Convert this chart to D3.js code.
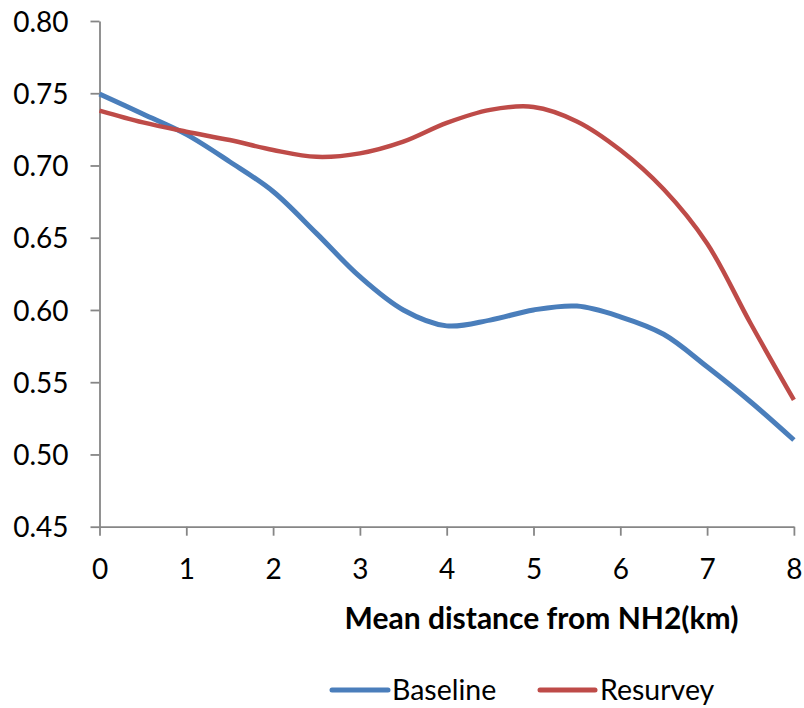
<!DOCTYPE html>
<html>
<head>
<meta charset="utf-8">
<script src="https://cdn.jsdelivr.net/npm/d3@7"></script>
<style>
  body { margin: 0; background: #fff; }
  svg { display: block; }
</style>
</head>
<body>
<svg id="chart" width="804" height="708"></svg>
<script>
// ---- data ----
const xValues      = [0, 0.5, 1, 1.5, 2, 2.5, 3, 3.5, 4, 4.5, 5, 5.5, 6, 6.5, 7, 7.5, 8];
const baseline     = [0.7495, 0.7356, 0.7215, 0.7026, 0.682, 0.653, 0.623, 0.600, 0.589, 0.593, 0.600, 0.6027, 0.5953, 0.5832, 0.5607, 0.5365, 0.510];
const resurvey     = [0.738, 0.7298, 0.7234, 0.7176, 0.7107, 0.706, 0.7084, 0.7165, 0.7295, 0.7385, 0.7405, 0.7305, 0.7107, 0.6835, 0.646, 0.5908, 0.5377];
const seriesNames  = ["Baseline", "Resurvey"];
const xTicks       = [0, 1, 2, 3, 4, 5, 6, 7, 8];
const yTicks       = [0.45, 0.50, 0.55, 0.60, 0.65, 0.70, 0.75, 0.80];
const xTitle       = "Mean distance from NH2(km)";

const colors = { Baseline: "#4a7ebb", Resurvey: "#be4b48" };
const font = "Lato, 'Open Sans', sans-serif";

const svg = d3.select("#chart");
const x = d3.scaleLinear().domain([0, 8]).range([99.5, 793.9]);
const y = d3.scaleLinear().domain([0.45, 0.80]).range([526.7, 21]);

// axes
const axisColor = "#868686";
const yAxis = svg.append("g").attr("transform", `translate(${x(0)},0)`)
  .call(d3.axisLeft(y).tickValues(yTicks).tickFormat(d3.format(".2f")).tickSize(9).tickSizeOuter(0).tickPadding(22));
const xAxis = svg.append("g").attr("transform", `translate(0,${y(0.45)})`)
  .call(d3.axisBottom(x).tickValues(xTicks).tickFormat(d3.format("d")).tickSize(9).tickSizeOuter(0).tickPadding(23));

[yAxis, xAxis].forEach(g => {
  g.select(".domain").attr("stroke", axisColor).attr("stroke-width", 1.8);
  g.selectAll(".tick line").attr("stroke", axisColor).attr("stroke-width", 1.8);
  g.selectAll(".tick text").attr("fill", "#000").style("font-family", font).style("font-size", "28px");
});
yAxis.selectAll(".tick text").attr("dy", "0.36em");
xAxis.selectAll(".tick text").attr("dy", "0.71em");

// lines
const line = d3.line().x(d => x(d[0])).y(d => y(d[1])).curve(d3.curveCatmullRom.alpha(0.5));
const data = {
  Baseline: xValues.map((v, i) => [v, baseline[i]]),
  Resurvey: xValues.map((v, i) => [v, resurvey[i]])
};
svg.append("path").datum(data.Baseline)
  .attr("fill", "none").attr("stroke", colors.Baseline).attr("stroke-width", 5).attr("d", line);
svg.append("path").datum(data.Resurvey)
  .attr("fill", "none").attr("stroke", colors.Resurvey).attr("stroke-width", 4.5).attr("d", line);

// axis title
svg.append("text")
  .attr("x", 541.5).attr("y", 629)
  .attr("text-anchor", "middle")
  .style("font-family", font).style("font-size", "30px").style("font-weight", "bold")
  .text(xTitle);

// legend
const legendPos = [{ x1: 332, x2: 388, tx: 392 }, { x1: 540, x2: 595, tx: 600 }];
seriesNames.forEach((name, i) => {
  const p = legendPos[i];
  svg.append("line").attr("x1", p.x1).attr("x2", p.x2).attr("y1", 690).attr("y2", 690)
    .attr("stroke", colors[name]).attr("stroke-width", 5).attr("stroke-linecap", "round");
  svg.append("text").attr("x", p.tx).attr("y", 700)
    .style("font-family", font).style("font-size", "28.5px").attr("fill", "#000")
    .text(name);
});
</script>
</body>
</html>
